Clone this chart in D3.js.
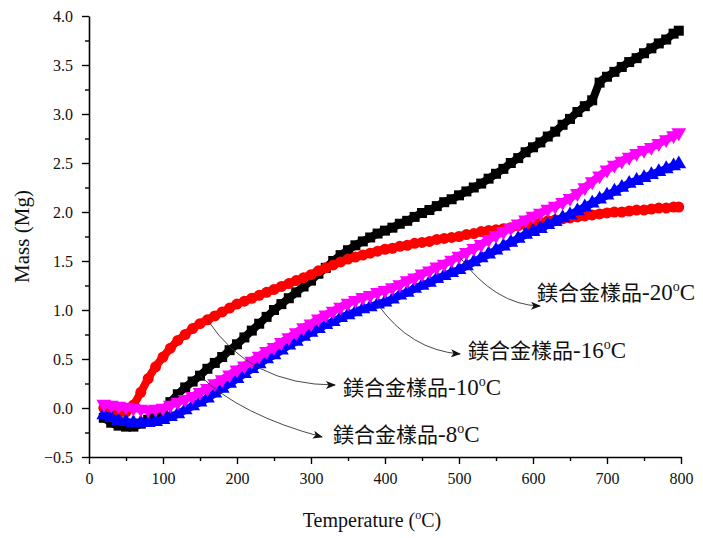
<!DOCTYPE html>
<html>
<head>
<meta charset="utf-8">
<script src="https://cdn.jsdelivr.net/npm/d3@7"></script>
<style>
  html, body { margin: 0; padding: 0; background: #fff; }
  svg { display: block; }
</style>
</head>
<body>
<svg id="chart" width="703" height="538"></svg>
<script>
// Temperature grid (°C) shared by all four samples
const temps = [20,30,40,50,60,70,80,90,100,110,120,130,140,150,160,170,180,190,200,
  210,220,230,240,250,260,270,280,290,300,310,320,330,340,350,360,370,380,390,400,
  410,420,430,440,450,460,470,480,490,500,510,520,530,540,550,560,570,580,590,600,
  610,620,630,640,650,660,670,680,690,700,710,720,730,740,750,760,770,780,790,797];

// Mass (Mg) of each sample at the temperatures above
const massMinus8 = [-0.10,-0.15,-0.18,-0.19,-0.19,-0.16,-0.12,-0.07,-0.02,0.06,0.14,0.21,0.27,0.33,
  0.40,0.46,0.52,0.59,0.65,0.72,0.79,0.86,0.93,1.00,1.06,1.12,1.18,1.24,1.30,1.37,1.43,1.50,1.56,
  1.61,1.66,1.70,1.74,1.78,1.81,1.84,1.88,1.91,1.95,1.99,2.02,2.06,2.10,2.13,2.17,2.21,2.25,2.29,
  2.34,2.39,2.44,2.50,2.55,2.61,2.66,2.71,2.77,2.82,2.89,2.95,3.02,3.08,3.14,3.32,3.38,3.43,3.48,
  3.53,3.57,3.62,3.67,3.72,3.76,3.82,3.85];
const massMinus10 = [0.00,-0.03,-0.05,-0.04,0.03,0.16,0.30,0.42,0.52,0.61,0.69,0.75,0.81,0.86,
  0.90,0.94,0.98,1.02,1.06,1.09,1.12,1.15,1.18,1.21,1.24,1.27,1.30,1.33,1.36,1.40,1.43,1.46,1.49,
  1.52,1.54,1.56,1.58,1.60,1.62,1.63,1.65,1.66,1.68,1.69,1.70,1.72,1.73,1.74,1.75,1.77,1.78,1.80,
  1.81,1.82,1.83,1.84,1.86,1.87,1.88,1.89,1.91,1.92,1.93,1.94,1.95,1.96,1.97,1.98,1.99,2.00,2.00,
  2.01,2.02,2.02,2.03,2.04,2.04,2.05,2.05];
const massMinus16 = [-0.07,-0.10,-0.13,-0.14,-0.15,-0.15,-0.15,-0.14,-0.12,-0.09,-0.06,-0.02,0.02,0.06,
  0.10,0.15,0.20,0.25,0.30,0.35,0.40,0.45,0.50,0.54,0.59,0.64,0.68,0.73,0.77,0.81,0.85,0.88,0.92,
  0.95,0.98,1.01,1.03,1.06,1.08,1.11,1.15,1.18,1.22,1.25,1.28,1.32,1.35,1.38,1.41,1.45,1.49,1.53,
  1.57,1.61,1.65,1.69,1.73,1.77,1.80,1.83,1.87,1.90,1.94,1.97,2.01,2.05,2.09,2.13,2.17,2.21,2.25,
  2.29,2.32,2.35,2.38,2.41,2.44,2.47,2.49];
const massMinus20 = [0.04,0.03,0.02,0.01,0.00,-0.01,-0.02,-0.01,0.00,0.03,0.06,0.09,0.12,0.16,
  0.20,0.25,0.29,0.34,0.39,0.43,0.48,0.53,0.58,0.62,0.67,0.72,0.77,0.82,0.86,0.91,0.95,0.99,1.03,
  1.07,1.10,1.13,1.15,1.18,1.20,1.23,1.26,1.30,1.33,1.37,1.40,1.44,1.47,1.51,1.55,1.59,1.63,1.67,
  1.72,1.76,1.80,1.84,1.88,1.92,1.96,1.99,2.03,2.06,2.10,2.14,2.19,2.25,2.31,2.37,2.43,2.48,2.52,
  2.56,2.60,2.63,2.66,2.70,2.74,2.78,2.81];

// Axis ticks
const xTicks = [0,100,200,300,400,500,600,700,800];
const xMinorTicks = [50,150,250,350,450,550,650,750];
const yTicks = [-0.5,0.0,0.5,1.0,1.5,2.0,2.5,3.0,3.5,4.0];
const yMinorTicks = [-0.25,0.25,0.75,1.25,1.75,2.25,2.75,3.25,3.75];

// Sample name and temperatures for the callouts
const sampleName = "鎂合金樣品";
const sampleTemps = ["-8", "-10", "-16", "-20"];

const svg = d3.select("#chart");
const serif = "'Liberation Serif','Times New Roman',serif";
const cjk = "'Noto Sans CJK TC','Noto Sans CJK SC',sans-serif";

const x = d3.scaleLinear().domain([0, 800]).range([89, 681]);
const y = d3.scaleLinear().domain([-0.5, 4.0]).range([457, 16]);

// Series in drawing order (bottom to top)
const series = [
  { name: sampleTemps[0], values: massMinus8,  color: "#000000", symbol: d3.symbolSquare,   size: 100, rotate: 0 },
  { name: sampleTemps[1], values: massMinus10, color: "#ff0000", symbol: d3.symbolCircle,   size: 95,  rotate: 0 },
  { name: sampleTemps[2], values: massMinus16, color: "#0000ff", symbol: d3.symbolTriangle, size: 95,  rotate: 0 },
  { name: sampleTemps[3], values: massMinus20, color: "#ff00ff", symbol: d3.symbolTriangle, size: 95,  rotate: 180 }
];

const line = d3.line()
  .x((d, i) => x(temps[i]))
  .y(d => y(d))
  .curve(d3.curveMonotoneX);

const plot = svg.append("g");
series.forEach(s => {
  const g = plot.append("g");
  g.append("path")
    .attr("d", line(s.values))
    .attr("fill", "none")
    .attr("stroke", s.color)
    .attr("stroke-width", 8)
    .attr("stroke-linejoin", "round");
  const sym = d3.symbol().type(s.symbol).size(s.size);
  g.selectAll("path.pt")
    .data(s.values)
    .join("path")
    .attr("class", "pt")
    .attr("d", sym)
    .attr("fill", s.color)
    .attr("transform", (d, i) => `translate(${x(temps[i])},${y(d)}) rotate(${s.rotate})`);
});

// Axes: major ticks with labels, minor ticks between them, all pointing outward
const xAxis = svg.append("g").attr("transform", `translate(0,${y(-0.5)})`);
xAxis.call(d3.axisBottom(x).tickValues(xTicks).tickSize(7).tickSizeOuter(0)
  .tickPadding(9).tickFormat(d3.format("d")));
xAxis.append("g").call(d3.axisBottom(x).tickValues(xMinorTicks).tickSize(4).tickSizeOuter(0).tickFormat(""))
  .select(".domain").remove();

const yAxis = svg.append("g").attr("transform", `translate(${x(0)},0)`);
yAxis.call(d3.axisLeft(y).tickValues(yTicks).tickSize(7).tickSizeOuter(0)
  .tickPadding(9).tickFormat(d3.format(".1f")));
yAxis.append("g").call(d3.axisLeft(y).tickValues(yMinorTicks).tickSize(4).tickSizeOuter(0).tickFormat(""))
  .select(".domain").remove();

svg.selectAll(".domain").attr("stroke", "#000").attr("stroke-width", 1.6);
svg.selectAll(".tick line").attr("stroke", "#000").attr("stroke-width", 1.4);
svg.selectAll(".tick text")
  .style("font-family", serif)
  .style("font-size", "16px")
  .attr("fill", "#111");

// Axis titles
const xt = svg.append("text")
  .attr("x", 372).attr("y", 527)
  .attr("text-anchor", "middle")
  .style("font-family", serif).style("font-size", "20px").attr("fill", "#111");
xt.append("tspan").text("Temperature (");
xt.append("tspan").style("font-size", "12px").attr("dy", -8).text("o");
xt.append("tspan").attr("dy", 8).text("C)");

svg.append("text")
  .attr("transform", `translate(29,${(y(-0.5) + y(4.0)) / 2}) rotate(-90)`)
  .attr("text-anchor", "middle")
  .style("font-family", serif).style("font-size", "21px").attr("fill", "#111")
  .text("Mass (Mg)");

// Callouts: curved leader from the curve to the label, arrowhead at the label end
svg.append("defs").append("marker")
  .attr("id", "arrow")
  .attr("viewBox", "0 0 10 8")
  .attr("refX", 9).attr("refY", 4)
  .attr("markerWidth", 10).attr("markerHeight", 8)
  .attr("markerUnits", "userSpaceOnUse")
  .attr("orient", "auto")
  .append("path")
  .attr("d", "M0,0 L10,4 L0,8 L2.5,4 Z")
  .attr("fill", "#111");

const callouts = [
  { s: 0, t: 150, ctrl: [240, 415], end: [322, 437], label: [333, 442] },
  { s: 1, t: 160, ctrl: [250, 385], end: [335, 385], label: [343, 395] },
  { s: 2, t: 390, ctrl: [410, 350], end: [460, 354], label: [468, 358] },
  { s: 3, t: 500, ctrl: [495, 305], end: [540, 306], label: [537, 300] }
];

callouts.forEach(c => {
  const s = series[c.s];
  const i = temps.indexOf(c.t);
  const x0 = x(temps[i]), y0 = y(s.values[i]);
  svg.append("path")
    .attr("d", `M${x0},${y0} Q${c.ctrl[0]},${c.ctrl[1]} ${c.end[0]},${c.end[1]}`)
    .attr("fill", "none")
    .attr("stroke", "#333")
    .attr("stroke-width", 0.9)
    .attr("marker-end", "url(#arrow)");

  const t = svg.append("text")
    .attr("x", c.label[0]).attr("y", c.label[1])
    .attr("fill", "#111");
  t.append("tspan").style("font-family", cjk).style("font-size", "21px").text(sampleName);
  t.append("tspan").style("font-family", serif).style("font-size", "23px").text(s.name);
  t.append("tspan").style("font-family", serif).style("font-size", "14px").attr("dy", -9).text("o");
  t.append("tspan").style("font-family", serif).style("font-size", "23px").attr("dy", 9).text("C");
});
</script>
</body>
</html>
